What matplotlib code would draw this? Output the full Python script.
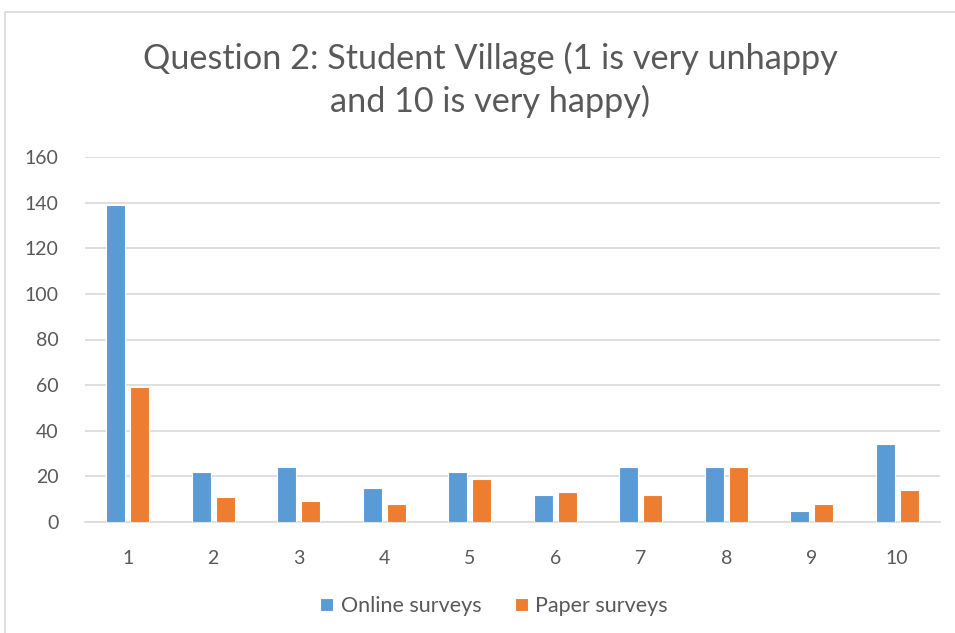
import matplotlib
matplotlib.use("Agg")
import matplotlib.pyplot as plt
from matplotlib.patches import Rectangle
import numpy as np

categories = ["1", "2", "3", "4", "5", "6", "7", "8", "9", "10"]
online = [139, 22, 24, 15, 22, 12, 24, 24, 5, 34]
paper = [59, 11, 9, 8, 19, 13, 12, 24, 8, 14]
yticks = [0, 20, 40, 60, 80, 100, 120, 140, 160]
title = "Question 2: Student Village (1 is very unhappy\nand 10 is very happy)"

plt.rcParams['font.family'] = ['Lato', 'DejaVu Sans']
gray = "#595959"

fig = plt.figure(figsize=(9.55, 6.33), dpi=100)
fig.patches.append(Rectangle((5/955, -0.1), 2, (633-12)/633 + 0.1, transform=fig.transFigure,
                             fill=False, edgecolor="#d9d9d9", linewidth=1.2))
ax = fig.add_axes([85/955, (633-522)/633, (940-85)/955, (522-157)/633])

x = np.arange(1, len(categories) + 1)
w = 0.225
off = 0.14
ax.bar(x - off, online, w, color="#5B9BD5", edgecolor="white", linewidth=0.8, label="Online surveys", zorder=3)
ax.bar(x + off, paper, w, color="#ED7D31", edgecolor="white", linewidth=0.8, label="Paper surveys", zorder=3)

ax.set_xlim(0.5, 10.5)
ax.set_ylim(0, 160)
ax.set_yticks(yticks)
ax.set_xticks(x)
ax.set_xticklabels(categories)
ax.yaxis.grid(True, color="#d9d9d9", linewidth=1.2, zorder=0)
ax.set_axisbelow(True)
for s in ["top", "right", "left"]:
    ax.spines[s].set_visible(False)
ax.spines["bottom"].set_color("#d9d9d9")
ax.spines["bottom"].set_linewidth(1.2)
ax.tick_params(axis="both", length=0, colors=gray, labelsize=14)
ax.tick_params(axis="y", pad=19)
ax.tick_params(axis="x", pad=20)

fig.text(490/955, 1 - 80/633, title, ha="center", va="center", fontsize=24.7, color=gray,
         linespacing=1.36)

leg = fig.legend(loc="center", bbox_to_anchor=(494/955, 1 - 606/633), ncol=2, frameon=False,
                 fontsize=15.5, handlelength=0.6, handleheight=0.6, columnspacing=1.55, handletextpad=0.35)
for t in leg.get_texts():
    t.set_color(gray)

fig.savefig("out.png", dpi=100)
